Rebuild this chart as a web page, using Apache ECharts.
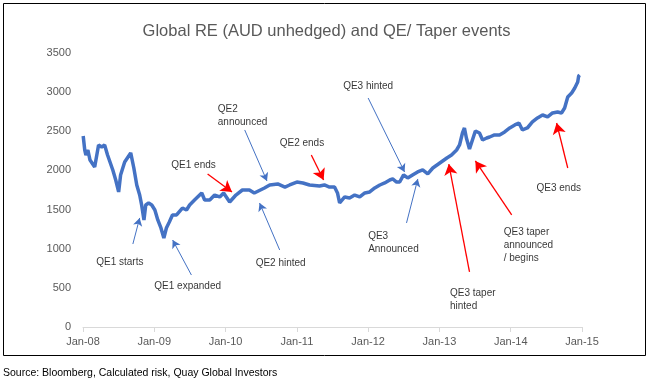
<!DOCTYPE html>
<html><head><meta charset="utf-8">
<script src="https://cdn.jsdelivr.net/npm/echarts@6/dist/echarts.min.js"></script>
<style>html,body{margin:0;padding:0;background:#fff}#c{width:653px;height:387px}</style>
</head><body><div id="c"></div>
<script>
const titleText = 'Global RE (AUD unhedged) and QE/ Taper events';
const sourceText = 'Source: Bloomberg, Calculated risk, Quay Global Investors';
const yTicks = [0, 500, 1000, 1500, 2000, 2500, 3000, 3500];
const xTickYears = [2008, 2009, 2010, 2011, 2012, 2013, 2014, 2015];
const xTickLabels = ['Jan-08','Jan-09','Jan-10','Jan-11','Jan-12','Jan-13','Jan-14','Jan-15'];

const dates = ['2008-01-02','2008-01-10','2008-01-16','2008-01-26','2008-02-06','2008-03-01','2008-03-21','2008-04-06','2008-04-21','2008-05-06',
'2008-06-02','2008-06-17','2008-07-02','2008-07-12','2008-08-02','2008-09-02','2008-09-18','2008-10-03','2008-10-18','2008-10-28',
'2008-11-09','2008-11-18','2008-12-03','2008-12-19','2009-01-04','2009-01-19','2009-02-04','2009-02-19','2009-03-04','2009-03-19',
'2009-04-04','2009-04-25','2009-05-25','2009-06-15','2009-07-01','2009-07-26','2009-09-01','2009-09-16','2009-10-12','2009-11-06',
'2009-12-02','2009-12-22','2010-01-22','2010-02-23','2010-03-28','2010-05-03','2010-05-28','2010-07-19','2010-08-15','2010-09-25',
'2010-11-01','2010-11-25','2011-01-01','2011-02-01','2011-03-07','2011-04-27','2011-05-22','2011-06-17','2011-07-13','2011-07-28',
'2011-08-08','2011-09-03','2011-09-28','2011-10-24','2011-11-19','2011-12-15','2012-01-09','2012-02-04','2012-03-01','2012-03-26',
'2012-04-21','2012-05-06','2012-05-26','2012-06-11','2012-07-01','2012-07-22','2012-08-16','2012-09-11','2012-10-07','2012-11-02',
'2012-11-28','2013-01-03','2013-02-08','2013-03-04','2013-03-30','2013-04-14','2013-04-29','2013-05-09','2013-05-19','2013-06-04',
'2013-06-19','2013-07-04','2013-07-25','2013-08-10','2013-08-31','2013-09-15','2013-10-10','2013-11-05','2013-12-01','2013-12-27',
'2014-01-22','2014-02-12','2014-03-02','2014-03-27','2014-04-22','2014-05-18','2014-06-13','2014-07-09','2014-08-03','2014-08-29',
'2014-09-18','2014-10-04','2014-10-20','2014-11-09','2014-11-25','2014-12-10','2014-12-15','2014-12-20'];
const values = [2440,2261,2197,2261,2133,2044,2325,2300,2325,2197,
2006,1878,1725,1942,2108,2223,2031,1814,1686,1559,
1367,1559,1584,1559,1495,1367,1265,1137,1265,1341,
1431,1431,1520,1495,1559,1622,1712,1622,1622,1686,
1661,1712,1597,1686,1750,1750,1712,1776,1814,1827,
1788,1814,1852,1840,1814,1801,1814,1788,1788,1712,
1584,1661,1648,1686,1661,1712,1725,1776,1814,1840,
1878,1891,1852,1852,1942,1904,1942,1980,2006,1955,
2031,2095,2159,2197,2261,2325,2478,2542,2414,2274,
2389,2504,2478,2389,2414,2427,2453,2453,2491,2542,
2581,2606,2517,2542,2619,2670,2708,2683,2734,2747,
2734,2798,2938,2989,3053,3130,3207,3220];

// Annotations (data coordinates)
const annText = ['QE1 starts','QE1 expanded','QE1 ends','QE2\nannounced','QE2 hinted','QE2 ends','QE3 hinted','QE3\nAnnounced','QE3 taper\nhinted','QE3 taper\nannounced\n/ begins','QE3 ends'];
const annTextDate = ['2008-07-08','2009-06-21','2009-07-21','2009-11-22','2010-10-10','2011-01-27','2012-01-01','2012-01-01','2013-02-24','2013-11-26','2014-09-04'];
const annTextValue = [830,524,2070,2702,818,2351,3079,1080,345,1041,1776];
const annAlign = ['center','center','center','left','center','center','center','left','left','left','center'];
const arrowFromDate = ['2008-09-13','2009-07-10','2009-10-01','2010-04-09','2010-10-05','2011-03-16','2012-01-01','2012-07-16','2013-06-04','2014-01-06','2014-10-20'];
const arrowFromValue = [1060,664,1955,2517,984,2197,2925,1329,703,1431,2031];
const arrowToDate = ['2008-10-18','2009-04-05','2010-02-03','2010-08-01','2010-06-24','2011-05-18','2012-07-06','2012-09-12','2013-02-18','2013-07-04','2014-08-24'];
const arrowToValue = [1393,1111,1725,1865,1584,1878,1980,1891,2082,2121,2606];
const arrowKind = ['blue','blue','red','blue','blue','red','blue','blue','red','red','red'];

const lineColor = '#4472C4';
const arrowColors = {blue: '#4472C4', red: '#FF0000'};
const arrowHead = {blue: [7, 8], red: [10, 11]};

// date string -> fractional year
const fy = d => {
  const y = +d.slice(0, 4);
  const t0 = Date.UTC(y, 0, 1), t1 = Date.UTC(y + 1, 0, 1);
  const t = new Date(d + 'T00:00:00Z').getTime();
  return y + (t - t0) / (t1 - t0);
};

const arrowLines = annText.map((t, i) => {
  const k = arrowKind[i];
  return [
    {coord: [fy(arrowFromDate[i]), arrowFromValue[i]], symbol: 'none',
     lineStyle: {color: arrowColors[k], width: k === 'red' ? 1.3 : 1, type: 'solid'}},
    {coord: [fy(arrowToDate[i]), arrowToValue[i]], symbol: 'arrow', symbolSize: arrowHead[k]}
  ];
});

const labelData = annText.map((t, i) => ({
  value: [fy(annTextDate[i]), annTextValue[i]],
  label: {show: true, formatter: t, position: 'inside', align: annAlign[i], verticalAlign: 'middle',
          fontSize: 10, lineHeight: 13, color: '#000', fontFamily: 'Liberation Sans'}
}));

const chart = echarts.init(document.getElementById('c'), null, {renderer: 'canvas'});
chart.setOption({
  animation: false,
  backgroundColor: '#fff',
  title: {text: titleText, left: 'center', top: 18,
    textStyle: {fontSize: 16.5, fontWeight: 'normal', color: '#595959', fontFamily: 'Liberation Sans'}},
  grid: {left: 83, right: 71, top: 53, bottom: 60},
  xAxis: {
    type: 'value', min: xTickYears[0], max: xTickYears[xTickYears.length - 1], interval: 1,
    axisLine: {show: true, lineStyle: {color: '#D9D9D9', width: 1}},
    axisTick: {show: true, length: 5, lineStyle: {color: '#D9D9D9'}},
    axisLabel: {margin: 9, fontSize: 11, color: '#595959', fontFamily: 'Liberation Sans',
      formatter: v => { const i = xTickYears.indexOf(Math.round(v)); return i >= 0 ? xTickLabels[i] : ''; }},
    splitLine: {show: false}
  },
  yAxis: {
    type: 'value', min: yTicks[0], max: yTicks[yTicks.length - 1], interval: 500,
    axisLine: {show: false}, axisTick: {show: false}, splitLine: {show: false},
    axisLabel: {margin: 12, fontSize: 11, color: '#595959', fontFamily: 'Liberation Sans',
      formatter: v => String(v)}
  },
  series: [
    {type: 'line', data: dates.map((d, i) => [fy(d), values[i]]), showSymbol: false, symbol: 'none',
     lineStyle: {color: lineColor, width: 3.5}, z: 3},
    {type: 'line', data: [], markLine: {silent: true, animation: false, label: {show: false},
      lineStyle: {color: arrowColors.blue, width: 1, type: 'solid'}, data: arrowLines}, z: 4},
    {type: 'scatter', data: labelData, symbolSize: 0, silent: true, z: 5}
  ],
  graphic: [
    {type: 'rect', shape: {x: 3.5, y: 3.5, width: 642, height: 352}, style: {fill: 'none', stroke: '#000', lineWidth: 1}, silent: true},
    {type: 'text', left: 3, top: 368, style: {text: sourceText, fontSize: 10.5, fill: '#000', fontFamily: 'Liberation Sans'}}
  ]
});
</script></body></html>
